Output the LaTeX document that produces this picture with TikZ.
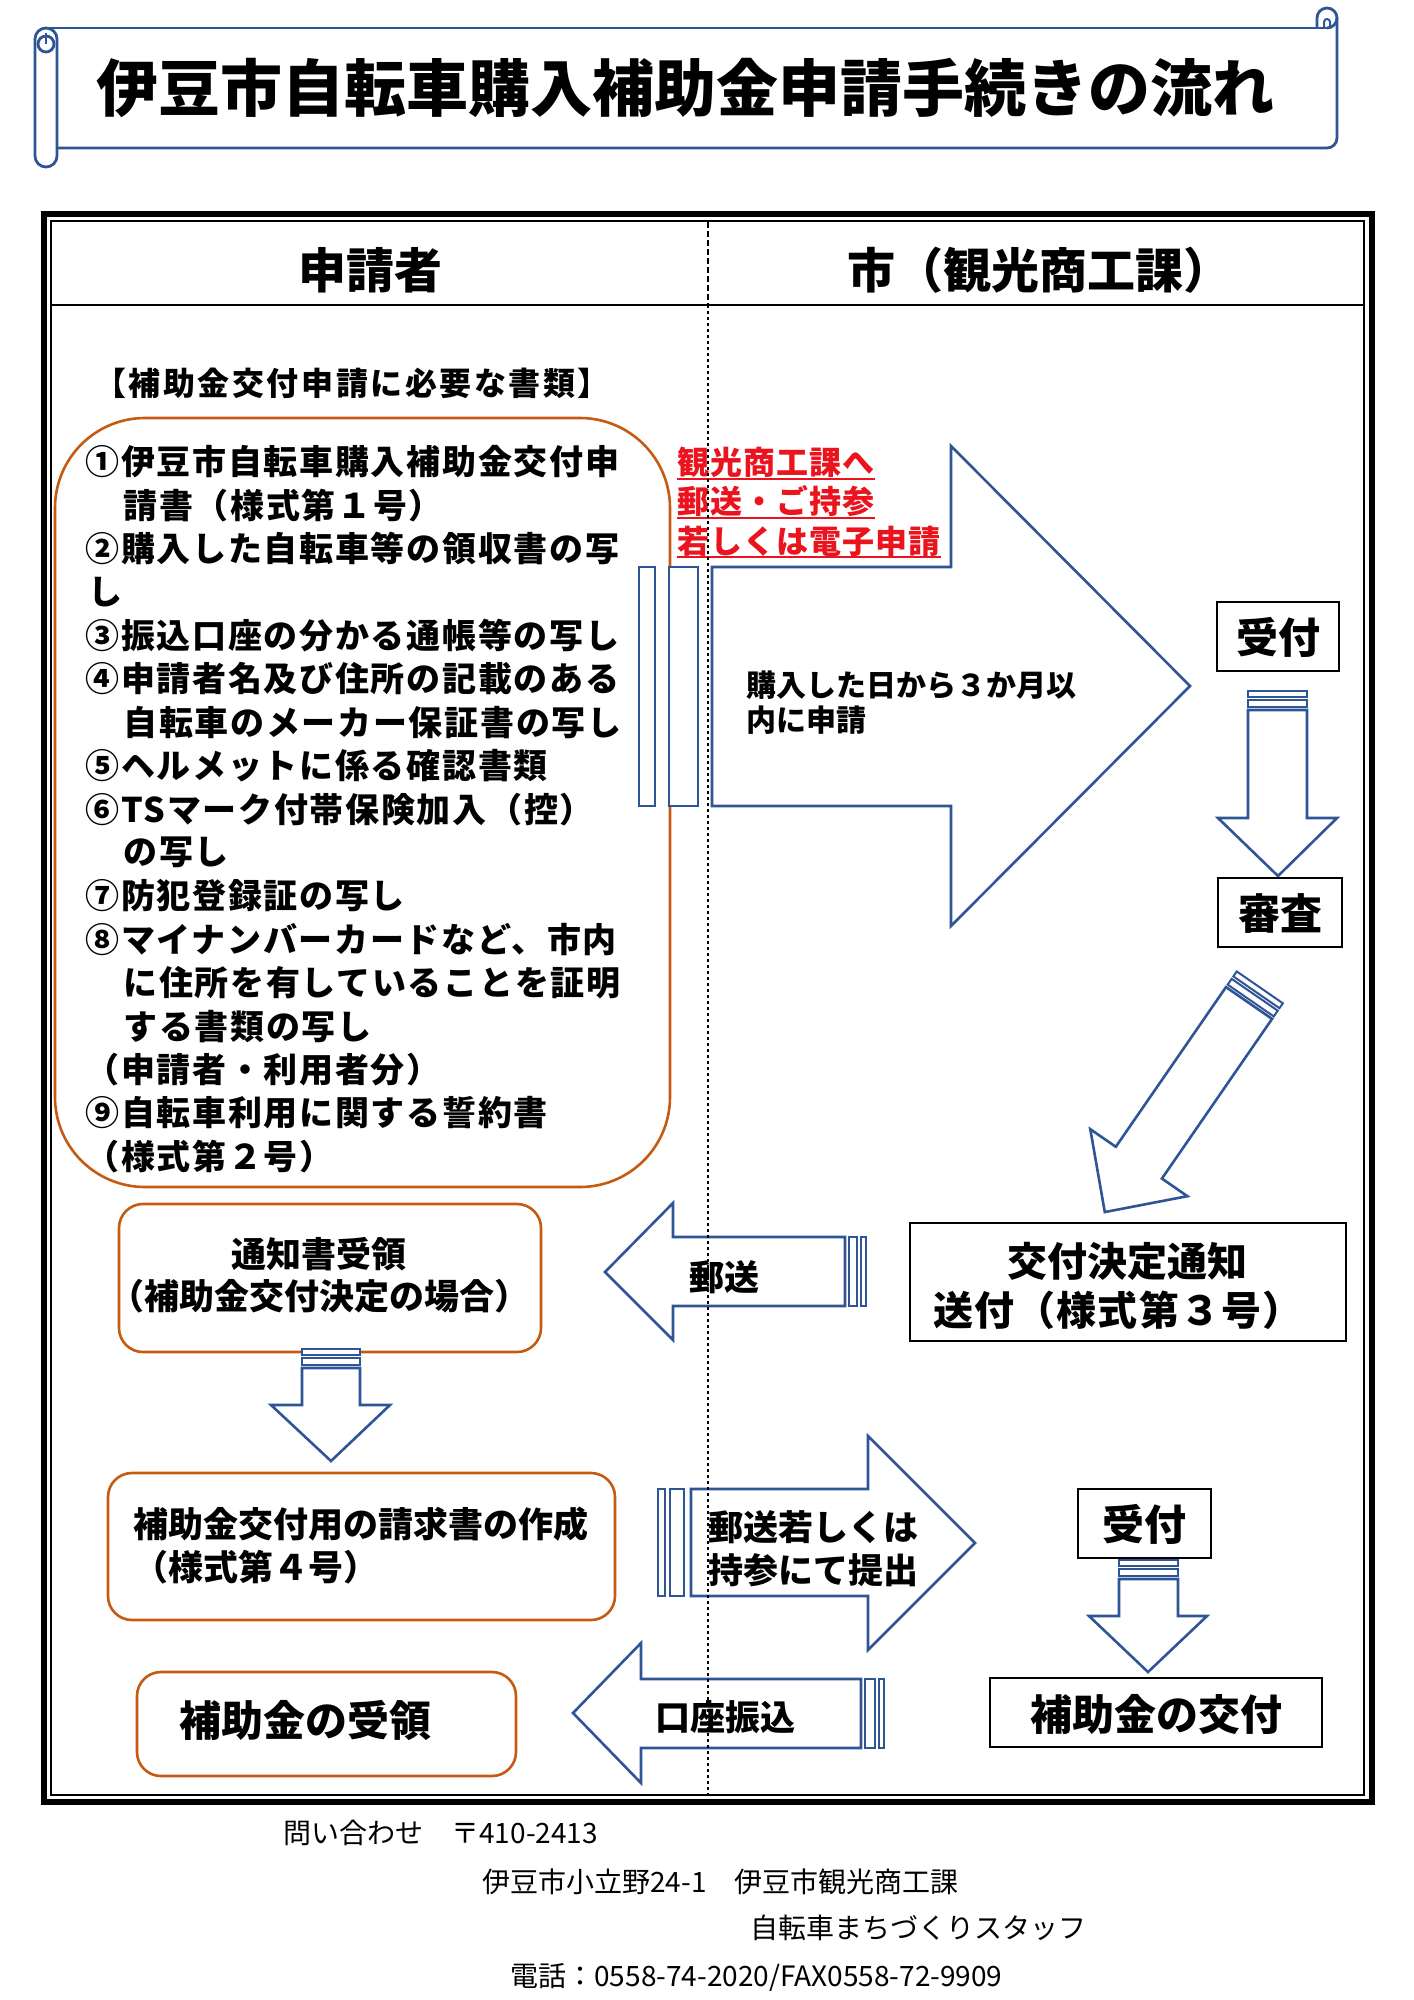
\documentclass[tikz,border=0pt]{standalone}
\usepackage{fontspec}
\setmainfont{Noto Sans CJK JP}
\newfontfamily\jp{Noto Sans CJK JP}
\definecolor{arrowblue}{RGB}{47,85,151}
\definecolor{boxorange}{RGB}{197,90,17}
\definecolor{redtext}{RGB}{235,20,30}
\tikzset{
  scroll/.style={draw=arrowblue, line width=1.4pt},
  blk/.style={draw=black, line width=1.3pt},
  obox/.style={draw=boxorange, line width=1.3pt, rounded corners=12pt},
  barrow/.style={draw=arrowblue, line width=1.3pt, fill=white, line join=miter},
  bstripe/.style={draw=arrowblue, line width=1pt, fill=white},
  ttl/.style={inner sep=0pt, font={\jp\bfseries\fontsize{31pt}{36pt}\selectfont}},
  hdr/.style={inner sep=0pt, font={\jp\bfseries\fontsize{24pt}{28pt}\selectfont}},
  reqhd/.style={inner sep=0pt, font={\jp\bfseries\fontsize{16pt}{20pt}\selectfont\addfontfeature{LetterSpace=8}}},
  lst/.style={inner sep=0pt, anchor=west, font={\jp\bfseries\fontsize{17pt}{20pt}\selectfont\addfontfeature{LetterSpace=5}}},
  redt/.style={inner sep=0pt, anchor=west, text=redtext, font={\jp\bfseries\fontsize{16pt}{20pt}\selectfont\addfontfeature{LetterSpace=3}}},
  arrt/.style={inner sep=0pt, anchor=west, font={\jp\bfseries\fontsize{15pt}{18pt}\selectfont}},
  boxt/.style={inner sep=0pt, font={\jp\bfseries\fontsize{17.5pt}{21pt}\selectfont}},
  bigt/.style={inner sep=0pt, font={\jp\bfseries\fontsize{21pt}{25pt}\selectfont}},
  foot/.style={inner sep=0pt, anchor=west, font={\jp\fontsize{14pt}{17pt}\selectfont}},
}
\begin{document}
\begin{tikzpicture}[x=0.5pt,y=-0.5pt]
\useasboundingbox[fill=white] (0,0) rectangle (1413,2000);

% ---------- title scroll ----------
\draw[scroll] (46,28) -- (1327,28);
\draw[scroll] (1337,18) -- (1337,138) arc[start angle=0,end angle=-90,radius=5pt] -- (57,148);
\draw[scroll] (1317,28) -- (1317,18) arc[start angle=180,end angle=-90,radius=5pt];
\draw[scroll, line width=1pt] (1324,28) -- (1324,22) arc[start angle=180,end angle=0,radius=1.5pt] -- (1330,26);
\draw[scroll, fill=white, rounded corners=5.5pt] (35,28) rectangle (57,167);
\draw[scroll] (46,44) circle[radius=4pt];
\draw[scroll, line width=1pt] (46,44) -- (46,33);
\node[ttl] (title) at (685,88) {伊豆市自転車購入補助金申請手続きの流れ};

% ---------- frame ----------
\draw[line width=3pt] (44,214) rectangle (1372,1802);
\draw[line width=1pt] (51,221) rectangle (1364,1795);
\draw[line width=1pt] (51,305) -- (1364,305);
\node[hdr] (hA) at (370,270) {申請者};
\node[hdr] (hB) at (1039,270) {市（観光商工課）};

% ---------- required documents ----------
\node[reqhd] (req) at (352,383) {【補助金交付申請に必要な書類】};
\draw[obox, rounded corners=45pt] (55,418) rectangle (670,1187);
\node[lst] (l1) at (85,462) {①伊豆市自転車購入補助金交付申};
\node[lst] (l2) at (123,505.4) {請書（様式第１号）};
\node[lst] (l3) at (85,548.8) {②購入した自転車等の領収書の写};
\node[lst] (l4) at (88,592.2) {し};
\node[lst] (l5) at (85,635.6) {③振込口座の分かる通帳等の写し};
\node[lst] (l6) at (85,679) {④申請者名及び住所の記載のある};
\node[lst] (l7) at (123,722.4) {自転車のメーカー保証書の写し};
\node[lst] (l8) at (85,765.8) {⑤ヘルメットに係る確認書類};
\node[lst] (l9) at (85,809.2) {⑥TSマーク付帯保険加入（控）};
\node[lst] (l10) at (123,852.6) {の写し};
\node[lst] (l11) at (85,896) {⑦防犯登録証の写し};
\node[lst] (l12) at (85,939.4) {⑧マイナンバーカードなど、市内};
\node[lst] (l13) at (123,982.8) {に住所を有していることを証明};
\node[lst] (l14) at (123,1026.2) {する書類の写し};
\node[lst] (l15) at (85,1069.6) {（申請者・利用者分）};
\node[lst] (l16) at (85,1113) {⑨自転車利用に関する誓約書};
\node[lst] (l17) at (85,1156.4) {（様式第２号）};

% ---------- big arrow ----------
\draw[barrow] (639,567) rectangle (655,806);
\draw[barrow] (669,567) rectangle (698,806);
\draw[barrow] (712,567) -- (951,567) -- (951,446) -- (1190,686) -- (951,926) -- (951,806) -- (712,806) -- cycle;
\node[redt] (r1) at (677,462) {観光商工課へ};
\node[redt] (r2) at (677,501) {郵送・ご持参};
\node[redt] (r3) at (677,541) {若しくは電子申請};
\draw[redtext, line width=1pt] ([yshift=-2.2pt]r1.base west) -- ([yshift=-2.2pt]r1.base east);
\draw[redtext, line width=1pt] ([yshift=-2.2pt]r2.base west) -- ([yshift=-2.2pt]r2.base east);
\draw[redtext, line width=1pt] ([yshift=-2.2pt]r3.base west) -- ([yshift=-2.2pt]r3.base east);
\node[arrt] (t1) at (746,685) {購入した日から３か月以};
\node[arrt] (t2) at (746,720) {内に申請};

% ---------- right column upper ----------
\draw[blk] (1217,602) rectangle (1339,671);
\node[bigt] (uk1) at (1278,637) {受付};
\draw[bstripe] (1248,691) rectangle (1307,697);
\draw[bstripe] (1248,700) rectangle (1307,707);
\draw[barrow] (1248,710) -- (1248,818) -- (1218,818) -- (1278,876) -- (1337,818) -- (1307,818) -- (1307,710) -- cycle;
\draw[blk] (1218,878) rectangle (1342,947);
\node[bigt] (sin) at (1280,913) {審査};

% diagonal arrow
\begin{scope}[shift={(1249,1003)}, rotate=-34.6]
  \draw[bstripe] (-28,-19) rectangle (28,-13);
  \draw[bstripe] (-28,-10) rectangle (28,-3);
  \draw[barrow] (-28,0) -- (-28,194) -- (-59,194) -- (0,254) -- (59,194) -- (28,194) -- (28,0) -- cycle;
\end{scope}

\draw[blk] (910,1223) rectangle (1346,1341);
\node[boxt, font={\jp\bfseries\fontsize{20pt}{24pt}\selectfont}] (k1) at (1127,1261) {交付決定通知};
\node[boxt, font={\jp\bfseries\fontsize{20pt}{24pt}\selectfont\addfontfeature{LetterSpace=3}}] (k2) at (1118,1310) {送付（様式第３号）};

% ---------- left arrow 郵送 ----------
\draw[bstripe] (849,1237) rectangle (857,1306);
\draw[bstripe] (861,1237) rectangle (866,1306);
\draw[barrow] (845,1237) -- (673,1237) -- (673,1203) -- (605,1272) -- (673,1340) -- (673,1306) -- (845,1306) -- cycle;
\node[boxt] (ys) at (724,1277) {郵送};

% ---------- left column lower ----------
\draw[obox] (119,1204) rectangle (541,1352);
\node[boxt] (tz1) at (319,1254) {通知書受領};
\node[boxt] (tz2) at (319,1296) {（補助金交付決定の場合）};
\draw[bstripe] (302,1349) rectangle (360,1355);
\draw[bstripe] (302,1358) rectangle (360,1365);
\draw[barrow] (302,1368) -- (302,1405) -- (271,1405) -- (331,1461) -- (390,1405) -- (360,1405) -- (360,1368) -- cycle;

\draw[obox] (108,1473) rectangle (615,1620);
\node[boxt, anchor=west] (sk1) at (133,1524) {補助金交付用の請求書の作成};
\node[boxt, anchor=west] (sk2) at (133,1567) {（様式第４号）};

\draw[obox] (137,1672) rectangle (516,1776);
\node[bigt] (jr) at (305,1720) {補助金の受領};

% ---------- right arrow 郵送若しくは ----------
\draw[bstripe] (658,1489) rectangle (665,1596);
\draw[bstripe] (670,1489) rectangle (684,1596);
\draw[barrow] (691,1489) -- (868,1489) -- (868,1436) -- (975,1543) -- (868,1650) -- (868,1596) -- (691,1596) -- cycle;
\node[boxt, anchor=west] (ms1) at (708,1527) {郵送若しくは};
\node[boxt, anchor=west] (ms2) at (708,1570) {持参にて提出};

\draw[blk] (1078,1489) rectangle (1211,1558);
\node[bigt] (uk2) at (1144,1524) {受付};
\draw[bstripe] (1119,1560) rectangle (1178,1566);
\draw[bstripe] (1119,1569) rectangle (1178,1576);
\draw[barrow] (1119,1579) -- (1119,1616) -- (1089,1616) -- (1148,1672) -- (1207,1616) -- (1178,1616) -- (1178,1579) -- cycle;
\draw[blk] (990,1678) rectangle (1322,1747);
\node[bigt] (kf) at (1156,1714) {補助金の交付};

% ---------- left arrow 口座振込 ----------
\draw[bstripe] (865,1679) rectangle (875,1748);
\draw[bstripe] (879,1679) rectangle (884,1748);
\draw[barrow] (861,1679) -- (641,1679) -- (641,1643) -- (573,1713) -- (641,1783) -- (641,1748) -- (861,1748) -- cycle;
\node[boxt] (kz) at (725,1717) {口座振込};

% ---------- divider ----------
\coordinate (dtop) at (708,222);
\coordinate (dmid) at (708,305);
\coordinate (dbot) at (708,1795);
\draw[line width=1.1pt, dash pattern=on 3pt off 1.5pt] (dtop) -- (dmid);
\draw[line width=1.3pt, dash pattern=on 1.5pt off 1.5pt] (dmid) -- (dbot);

% ---------- footer ----------
\node[foot] (f1) at (283,1833) {問い合わせ　〒410-2413};
\node[foot] (f2) at (482,1882) {伊豆市小立野24-1　伊豆市観光商工課};
\node[foot] (f3) at (750,1928) {自転車まちづくりスタッフ};
\node[foot] (f4) at (510,1977) {電話：0558-74-2020/FAX0558-72-9909};
\end{tikzpicture}
\end{document}
